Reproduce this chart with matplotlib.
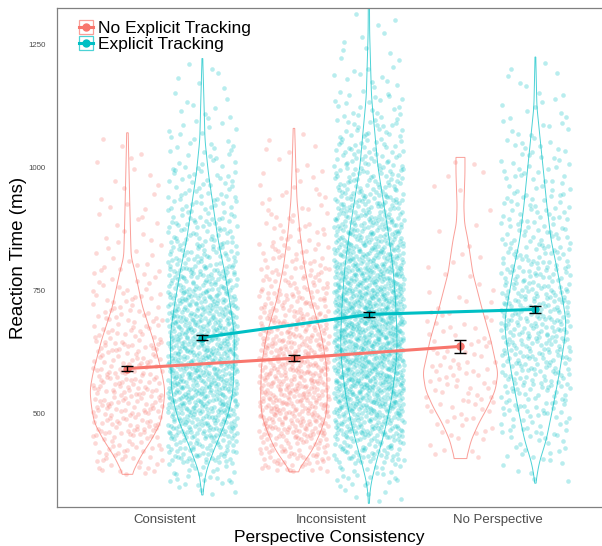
import numpy as np
import matplotlib.pyplot as plt
from matplotlib.patches import Rectangle
from matplotlib.lines import Line2D

plt.rcParams['font.family'] = ['Liberation Sans', 'DejaVu Sans']

conditions = ["Consistent", "Inconsistent", "No Perspective"]
groups = ["No Explicit Tracking", "Explicit Tracking"]
colors = {"No Explicit Tracking": "#F8766D", "Explicit Tracking": "#00BFC4"}

# condition means and standard errors (ms)
mean_rt = {"No Explicit Tracking": [591, 612, 636],
           "Explicit Tracking": [654, 701, 711]}
se_rt = {"No Explicit Tracking": [5.5, 5.5, 13],
         "Explicit Tracking": [5, 5, 8]}

# raw trials, as counts per 50 ms bin (bins start at 300, 350, ... 1300)
bin_lo = list(range(300, 1350, 50))
counts = {
    "No Explicit Tracking": [
        [0, 10, 30, 45, 50, 48, 40, 30, 22, 15, 10, 8, 6, 5, 4, 2, 0, 0, 0, 0, 0],
        [0, 15, 50, 80, 90, 90, 82, 70, 52, 38, 26, 18, 12, 8, 5, 3, 0, 0, 0, 0, 0],
        [0, 0, 6, 12, 18, 20, 16, 12, 8, 5, 4, 2, 2, 3, 2, 0, 0, 0, 0, 0, 0],
    ],
    "Explicit Tracking": [
        [3, 25, 60, 90, 110, 115, 115, 110, 95, 75, 55, 42, 33, 25, 18, 12, 8, 5, 2, 0, 0],
        [5, 25, 60, 95, 125, 140, 145, 145, 140, 125, 105, 88, 70, 52, 40, 28, 20, 12, 7, 4, 2],
        [0, 5, 15, 25, 35, 45, 55, 60, 58, 48, 38, 30, 25, 20, 16, 12, 8, 5, 2, 0, 0],
    ],
}
rt_min = {"No Explicit Tracking": [376, 381, 408], "Explicit Tracking": [334, 317, 358]}
rt_max = {"No Explicit Tracking": [1070, 1079, 1020], "Explicit Tracking": [1221, 1340, 1224]}

# violin outlines: RT levels and relative half-widths
violin_y = {
    "No Explicit Tracking": [
        [376, 412, 446, 480, 513, 547, 582, 649, 717, 785, 818, 870, 933, 1000, 1070],
        [381, 391, 425, 460, 493, 527, 595, 629, 663, 730, 798, 866, 934, 1000, 1079],
        [408, 446, 480, 513, 547, 582, 649, 717, 785, 852, 886, 920, 988, 1020],
    ],
    "Explicit Tracking": [
        [334, 379, 412, 446, 480, 513, 547, 615, 663, 717, 785, 852, 920, 988, 1055, 1140, 1221],
        [317, 351, 391, 460, 527, 595, 629, 663, 730, 798, 866, 934, 1001, 1069, 1143, 1273, 1400],
        [358, 399, 446, 513, 582, 649, 683, 717, 785, 852, 920, 988, 1055, 1123, 1224],
    ],
}
violin_w = {
    "No Explicit Tracking": [
        [0.12, 0.35, 0.64, 0.88, 0.96, 1.0, 0.92, 0.69, 0.40, 0.21, 0.10, 0.08, 0.06, 0.04, 0.02],
        [0.10, 0.18, 0.49, 0.70, 0.85, 0.89, 0.87, 0.80, 0.72, 0.46, 0.28, 0.16, 0.08, 0.05, 0.02],
        [0.16, 0.29, 0.49, 0.73, 0.93, 1.0, 0.81, 0.56, 0.33, 0.20, 0.11, 0.09, 0.12, 0.12],
    ],
    "Explicit Tracking": [
        [0.01, 0.09, 0.24, 0.42, 0.61, 0.74, 0.82, 0.85, 0.85, 0.75, 0.60, 0.42, 0.29, 0.16, 0.07, 0.04, 0.01],
        [0.01, 0.04, 0.16, 0.41, 0.60, 0.72, 0.75, 0.75, 0.71, 0.64, 0.52, 0.38, 0.24, 0.16, 0.07, 0.02, 0.01],
        [0.01, 0.10, 0.29, 0.47, 0.64, 0.78, 0.82, 0.76, 0.60, 0.42, 0.31, 0.22, 0.13, 0.04, 0.01],
    ],
}

dodge = {"No Explicit Tracking": -0.225, "Explicit Tracking": 0.225}
half_violin = 0.225
jitter = 0.21


def halton(n, base):
    out = np.zeros(n)
    for i in range(n):
        f, r, k = 1.0, 0.0, i + 1
        while k > 0:
            f /= base
            r += f * (k % base)
            k //= base
        out[i] = r
    return out


def spread(cnt, lo_lim, hi_lim, start):
    # quasi-random placement: inverse of the binned distribution
    cnt = np.array(cnt, dtype=float)
    edges_lo = np.maximum(np.array(bin_lo, dtype=float), lo_lim)
    edges_hi = np.minimum(np.array(bin_lo, dtype=float) + 50, hi_lim)
    n = int(cnt.sum())
    cum = np.concatenate([[0], np.cumsum(cnt)]) / cnt.sum()
    u = halton(n + start, 2)[start:]
    v = halton(n + start, 3)[start:]
    idx = np.clip(np.searchsorted(cum, u, side='right') - 1, 0, len(cnt) - 1)
    frac = (u - cum[idx]) / np.maximum(cum[idx + 1] - cum[idx], 1e-9)
    ys = edges_lo[idx] + frac * (edges_hi[idx] - edges_lo[idx])
    return v * 2 - 1, ys


fig = plt.figure(figsize=(6.02, 5.46), dpi=100)
ax = fig.add_axes([0.0947, 0.0709, 0.9053, 0.9139])

xpos = np.arange(1, len(conditions) + 1)

for gi, g in enumerate(groups):
    c = colors[g]
    for i in range(len(conditions)):
        cx = xpos[i] + dodge[g]
        xs, ys = spread(counts[g][i], rt_min[g][i], rt_max[g][i], 17 + 37 * (gi * 3 + i))
        ax.scatter(cx + xs * jitter, ys, s=11, color=c, alpha=0.28, linewidths=0, zorder=1)

kern = np.ones(9) / 9
for g in groups:
    c = colors[g]
    for i in range(len(conditions)):
        cx = xpos[i] + dodge[g]
        vy = np.array(violin_y[g][i], dtype=float)
        vw = np.array(violin_w[g][i]) * half_violin
        fy = np.linspace(vy[0], vy[-1], 240)
        fw = np.interp(fy, vy, vw)
        pad = np.concatenate([np.full(4, fw[0]), fw, np.full(4, fw[-1])])
        fw = np.convolve(pad, kern, mode='valid')
        ax.fill(np.concatenate([cx - fw, (cx + fw)[::-1]]),
                np.concatenate([fy, fy[::-1]]),
                fill=False, edgecolor=c, alpha=0.7, lw=0.7, zorder=2)

for g in groups:
    c = colors[g]
    mx = xpos + dodge[g]
    ax.plot(mx, mean_rt[g], color=c, lw=2.2, zorder=3)
    ax.plot(mx, mean_rt[g], 'o', color=c, ms=5, zorder=4)
    ax.errorbar(mx, mean_rt[g], yerr=se_rt[g], fmt='none', ecolor='black',
                elinewidth=1, capsize=4.3, capthick=1, zorder=5)

ax.set_xlim(0.352, 3.625)
ax.set_ylim(309, 1323)
ax.set_xticks(xpos)
ax.set_xticklabels(conditions)
ax.set_yticks([500, 750, 1000, 1250])
ax.tick_params(axis='x', length=0, pad=5, labelsize=9.5, labelcolor='#4D4D4D')
ax.tick_params(axis='y', length=0, pad=8, labelsize=5.7, labelcolor='#4D4D4D')
ax.set_xlabel("Perspective Consistency", fontsize=12.5, labelpad=3)
ax.set_ylabel("Reaction Time (ms)", fontsize=13.5, va='center')
ax.yaxis.set_label_coords(-39 / 545, 0.5)
for s in ['left', 'bottom', 'top']:
    ax.spines[s].set_color('#808080')
    ax.spines[s].set_linewidth(0.9)
ax.spines['right'].set_visible(False)

handles = [(Rectangle((0, 0), 1, 1, fill=False, edgecolor=colors[g], alpha=0.7, lw=0.9),
            Line2D([], [], color=colors[g], lw=2.2, marker='o', ms=5)) for g in groups]
ax.legend(handles, groups, loc='upper left', bbox_to_anchor=(22 / 545, 1 - 12 / 499),
          frameon=False, fontsize=12.5, handlelength=0.8, handleheight=0.85,
          labelspacing=0.0, handletextpad=0.3, borderpad=0, borderaxespad=0)

fig.savefig("out.png", dpi=100)
